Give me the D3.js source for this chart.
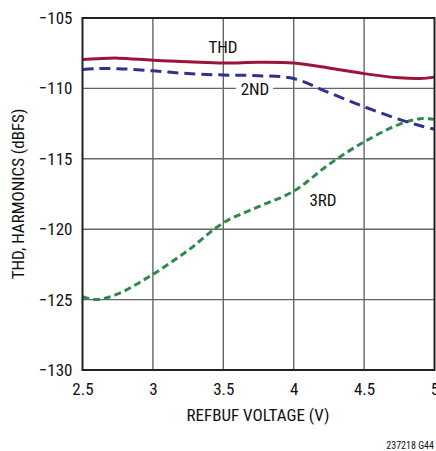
<!DOCTYPE html>
<html><head><meta charset="utf-8">
<script src="https://cdn.jsdelivr.net/npm/d3@7"></script>
<style>body{margin:0;background:#fff}svg{display:block}text{font-family:"Liberation Sans Narrow","Arial Narrow","Roboto Condensed","Liberation Sans",sans-serif}</style>
</head><body><svg id="c" width="436" height="451"></svg>
<script>
const xTicks=[2.5,3,3.5,4,4.5,5];
const xTickLabels=["2.5","3","3.5","4","4.5","5"];
const yTicks=[-105,-110,-115,-120,-125,-130];
const yTickLabels=["\u2212105","\u2212110","\u2212115","\u2212120","\u2212125","\u2212130"];
const xVals=[2.5,2.6,2.75,3,3.25,3.5,3.75,4,4.25,4.5,4.75,4.9,5];
const thd=[-107.95,-107.9,-107.85,-108.0,-108.1,-108.2,-108.15,-108.2,-108.55,-108.95,-109.25,-109.3,-109.2];
const second=[-108.65,-108.6,-108.6,-108.75,-108.95,-109.05,-109.1,-109.3,-110.3,-111.3,-112.2,-112.65,-112.9];
const third=[-124.8,-125.0,-124.6,-123.2,-121.5,-119.55,-118.4,-117.3,-115.4,-113.8,-112.55,-112.15,-112.2];
const seriesNames=["THD","2ND","3RD"];

const svg=d3.select("#c");
const x=d3.scaleLinear().domain([2.5,5]).range([82.5,434.5]);
const y=d3.scaleLinear().domain([-130,-105]).range([370,18]);
const g=svg.append("g");
// grid
g.selectAll(".vg").data(xTicks.slice(1,-1)).enter().append("line")
 .attr("x1",d=>x(d)).attr("x2",d=>x(d)).attr("y1",y(-105)).attr("y2",y(-130))
 .attr("stroke","#666").attr("stroke-width",1.4);
g.selectAll(".hg").data(yTicks.slice(1,-1)).enter().append("line")
 .attr("x1",x(2.5)).attr("x2",x(5)).attr("y1",d=>y(d)).attr("y2",d=>y(d))
 .attr("stroke","#666").attr("stroke-width",1.4);

const line=d3.line().x((d,i)=>x(xVals[i])).y(d=>y(d)).curve(d3.curveCatmullRom.alpha(0.5));
svg.append("clipPath").attr("id","cp").append("rect").attr("x",x(2.5)).attr("y",y(-105)).attr("width",x(5)-x(2.5)).attr("height",y(-130)-y(-105));
const lg=svg.append("g").attr("clip-path","url(#cp)");
lg.append("path").datum(third).attr("d",line).attr("fill","none").attr("stroke","#2e8a4c").attr("stroke-width",3).attr("stroke-dasharray","7,4");
lg.append("path").datum(second).attr("d",line).attr("fill","none").attr("stroke","#2e3192").attr("stroke-width",3).attr("stroke-dasharray","11,6");
lg.append("path").datum(thd).attr("d",line).attr("fill","none").attr("stroke","#9c1538").attr("stroke-width",3);

// frame
svg.append("rect").attr("x",x(2.5)).attr("y",y(-105)).attr("width",x(5)-x(2.5)).attr("height",y(-130)-y(-105))
 .attr("fill","none").attr("stroke","#222").attr("stroke-width",2);

// axes labels
const xAxis=d3.axisBottom(x).tickValues(xTicks).tickFormat((d,i)=>xTickLabels[i]).tickSize(0).tickPadding(13);
const xa=svg.append("g").attr("transform",`translate(0,${y(-130)})`).call(xAxis);
xa.select(".domain").remove();
xa.selectAll("text").attr("font-size",17).attr("fill","#111").style("font-family",null);
const yAxis=d3.axisLeft(y).tickValues(yTicks).tickFormat((d,i)=>yTickLabels[i]).tickSize(0).tickPadding(10);
const ya=svg.append("g").attr("transform",`translate(${x(2.5)},0)`).call(yAxis);
ya.select(".domain").remove();
ya.selectAll("text").attr("font-size",17).attr("fill","#111").style("font-family",null);

svg.append("text").attr("x",258).attr("y",421).attr("text-anchor","middle").attr("font-size",17).attr("fill","#111").text("REFBUF VOLTAGE (V)");
svg.append("text").attr("transform","translate(24,194) rotate(-90)").attr("text-anchor","middle").attr("font-size",17).attr("fill","#111").text("THD, HARMONICS (dBFS)");
svg.append("text").attr("x",434).attr("y",449).attr("text-anchor","end").attr("font-size",10).attr("fill","#111").text("237218 G44");

// series labels
svg.append("text").attr("x",223).attr("y",53).attr("text-anchor","middle").attr("font-size",17).attr("fill","#111").text(seriesNames[0]);
svg.append("rect").attr("x",236).attr("y",80).attr("width",37).attr("height",16).attr("fill","#fff");
svg.append("text").attr("x",255).attr("y",95).attr("text-anchor","middle").attr("font-size",17).attr("fill","#111").text(seriesNames[1]);
svg.append("text").attr("x",323).attr("y",206).attr("text-anchor","middle").attr("font-size",17).attr("fill","#111").text(seriesNames[2]);
</script></body></html>
